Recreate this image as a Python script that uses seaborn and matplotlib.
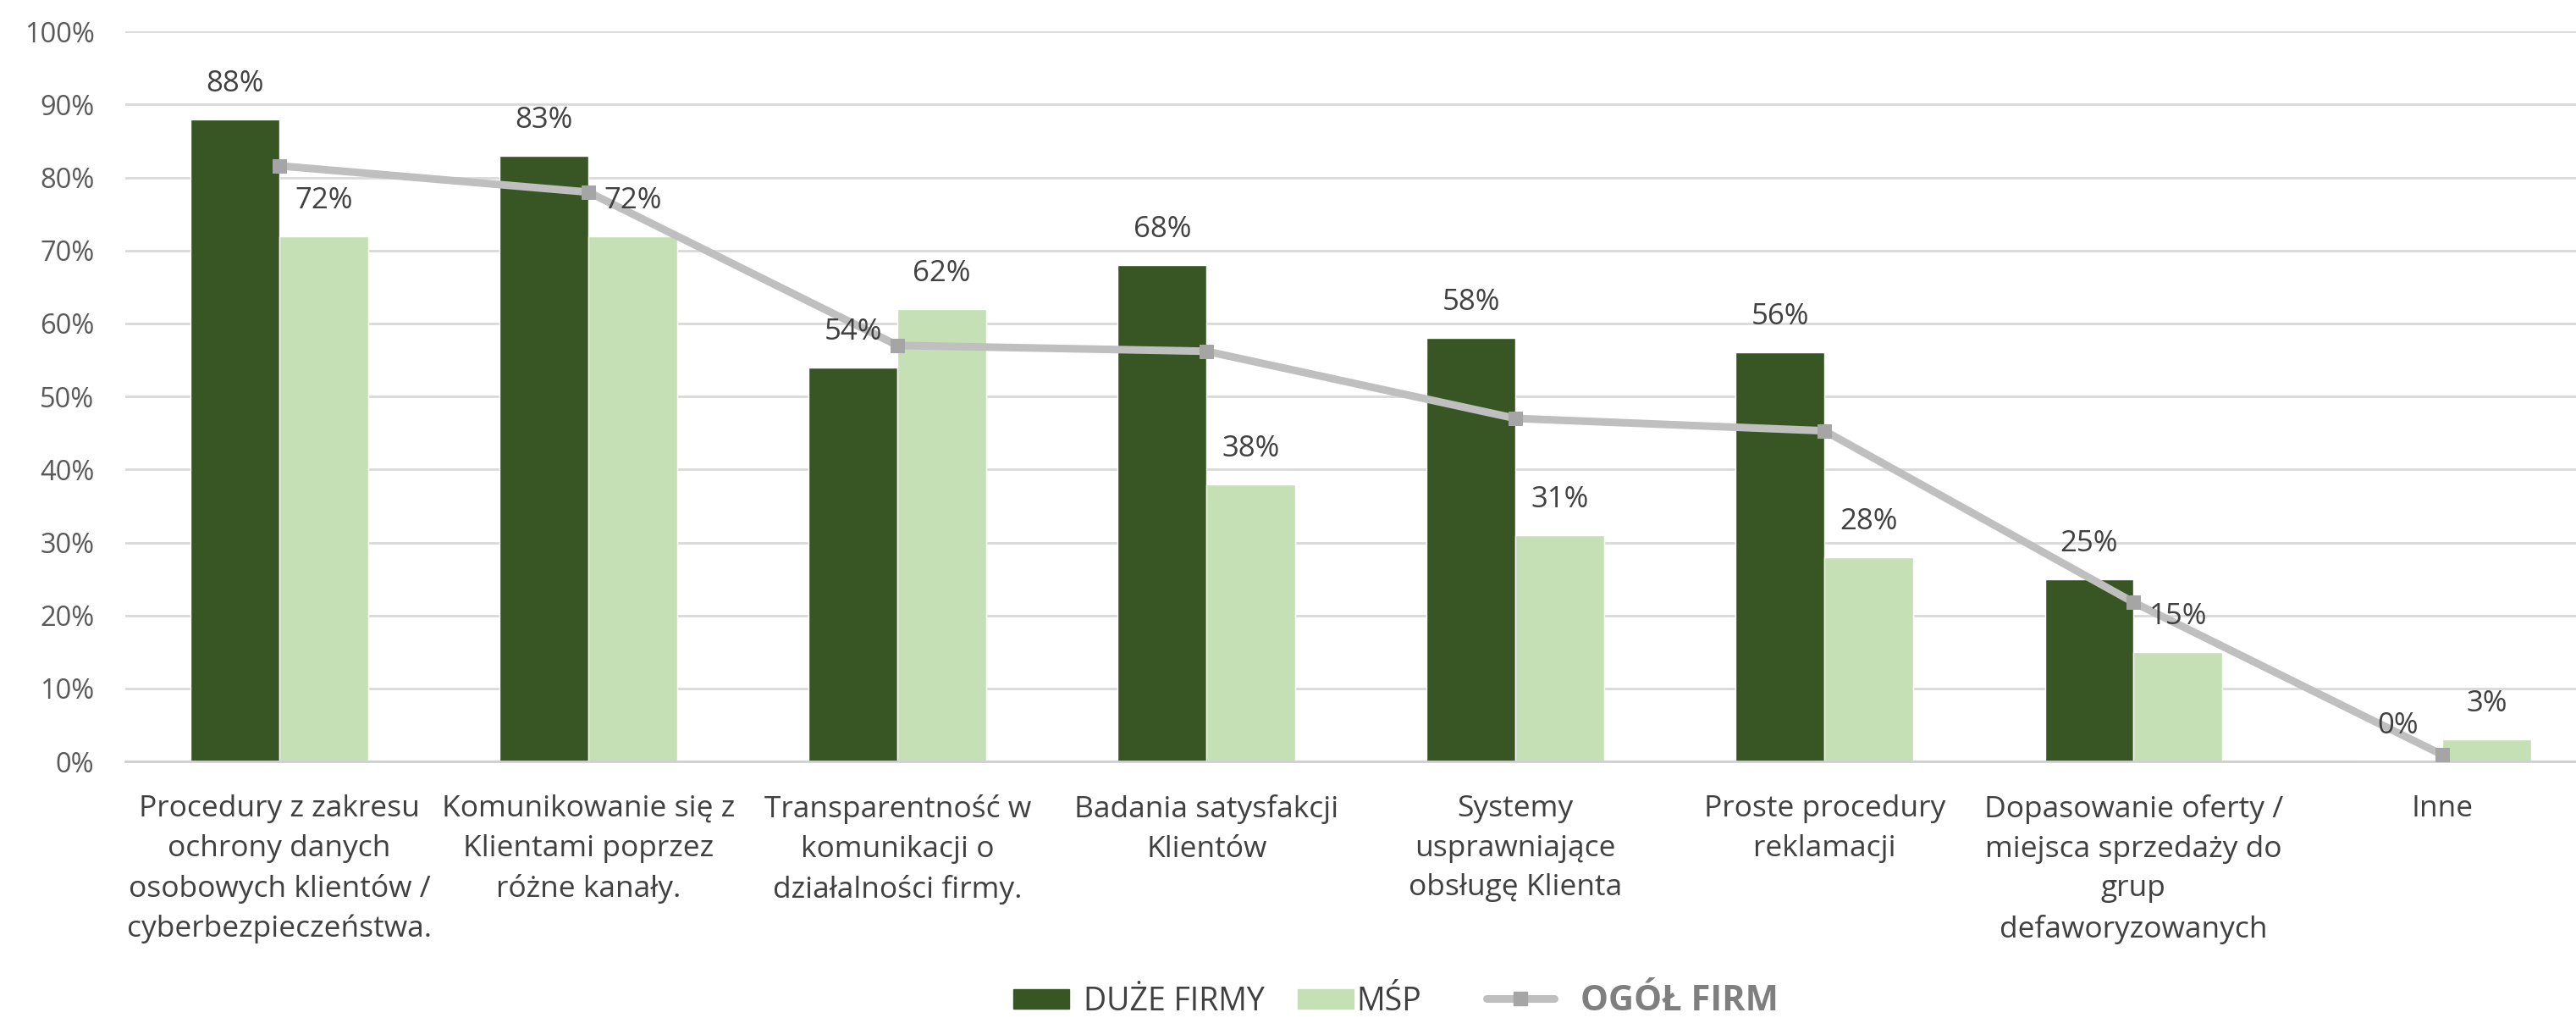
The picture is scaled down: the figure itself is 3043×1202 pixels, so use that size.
import numpy as np
import pandas as pd
import matplotlib
matplotlib.use("Agg")
import matplotlib.pyplot as plt
import seaborn as sns
from matplotlib.patches import Patch
from matplotlib.lines import Line2D

# --- data -------------------------------------------------------------
categories = [
    "Procedury z zakresu\nochrony danych\nosobowych klientów /\ncyberbezpieczeństwa.",
    "Komunikowanie się z\nKlientami poprzez\nróżne kanały.",
    "Transparentność w\nkomunikacji o\ndziałalności firmy.",
    "Badania satysfakcji\nKlientów",
    "Systemy\nusprawniające\nobsługę Klienta",
    "Proste procedury\nreklamacji",
    "Dopasowanie oferty /\nmiejsca sprzedaży do\ngrup\ndefaworyzowanych",
    "Inne",
]
duze_firmy = [88, 83, 54, 68, 58, 56, 25, 0]
msp = [72, 72, 62, 38, 31, 28, 15, 3]
ogol_firm = [81.6, 78.0, 57.0, 56.2, 47.0, 45.3, 21.8, 0.9]
series_names = ["DUŻE FIRMY", "MŚP", "OGÓŁ FIRM"]
y_ticks = list(range(0, 101, 10))

# --- style ------------------------------------------------------------
sns.set_theme(style="white")
plt.rcParams["font.family"] = ["Open Sans", "DejaVu Sans"]

DARK = "#375623"
LIGHT = "#c5e0b4"
LINE = "#bfbfbf"
MARK = "#a5a5a5"
TEXT = "#404040"
GRID = "#d9d9d9"

df = pd.DataFrame({
    "kategoria": categories * 2,
    "wartosc": duze_firmy + msp,
    "grupa": [series_names[0]] * len(categories) + [series_names[1]] * len(categories),
})

fig = plt.figure(figsize=(30.43, 12.02), dpi=100)
ax = fig.add_axes([0.0485, 0.252, 0.9515, 0.717])

sns.barplot(data=df, x="kategoria", y="wartosc", hue="grupa",
            palette=[DARK, LIGHT], width=0.574, saturation=1,
            dodge=True, legend=False, ax=ax, zorder=2)

sns.lineplot(x=np.arange(len(categories)), y=ogol_firm, ax=ax,
             color=LINE, linewidth=6.5, marker="s", markersize=12,
             markerfacecolor=MARK, markeredgecolor=MARK, zorder=3)

# value labels above each bar
for cont, vals in zip(ax.containers, [duze_firmy, msp]):
    ax.bar_label(cont, labels=[f"{v}%" for v in vals], padding=18,
                 fontsize=25, color=TEXT)

ax.set_xlim(-0.5, 7.432)
ax.set_ylim(0, 100)
ax.set_yticks(y_ticks)
ax.set_yticklabels([f"{v}%" for v in y_ticks], fontsize=23.5, color="#595959")
ax.set_xticks(range(len(categories)))
ax.set_xticklabels(categories, fontsize=25.5, color=TEXT, linespacing=1.49)
ax.tick_params(axis="y", length=0, pad=26)
ax.tick_params(axis="x", length=0, pad=28)
ax.set_xlabel("")
ax.set_ylabel("")

ax.yaxis.grid(True, color=GRID, linewidth=2)
ax.set_axisbelow(True)
for s in ["top", "right", "left"]:
    ax.spines[s].set_visible(False)
ax.spines["bottom"].set_color("#cfcfcf")
ax.spines["bottom"].set_linewidth(2)

# legend entries, one small legend each so their spacing can be set
legend_specs = [
    (Patch(facecolor=DARK, edgecolor=DARK), series_names[0], 0.3935,
     dict(fontsize=27, handlelength=1.75, handleheight=0.6, handletextpad=0.45), TEXT, "normal"),
    (Patch(facecolor=LIGHT, edgecolor=LIGHT), series_names[1], 0.5038,
     dict(fontsize=27, handlelength=1.75, handleheight=0.6, handletextpad=0.1), TEXT, "normal"),
    (Line2D([0], [0], color=LINE, linewidth=6.5, marker="s", markersize=12,
            markerfacecolor=MARK, markeredgecolor=MARK), series_names[2], 0.5772,
     dict(fontsize=30, handlelength=1.9, handletextpad=0.75), "#7f7f7f", "bold"),
]
for handle, name, xpos, kw, col, weight in legend_specs:
    lg = fig.legend([handle], [name], loc="center left", bbox_to_anchor=(xpos, 0.016),
                    frameon=False, borderpad=0, borderaxespad=0, **kw)
    for t in lg.get_texts():
        t.set_color(col)
        t.set_fontweight(weight)

fig.savefig("out.png", dpi=100)
